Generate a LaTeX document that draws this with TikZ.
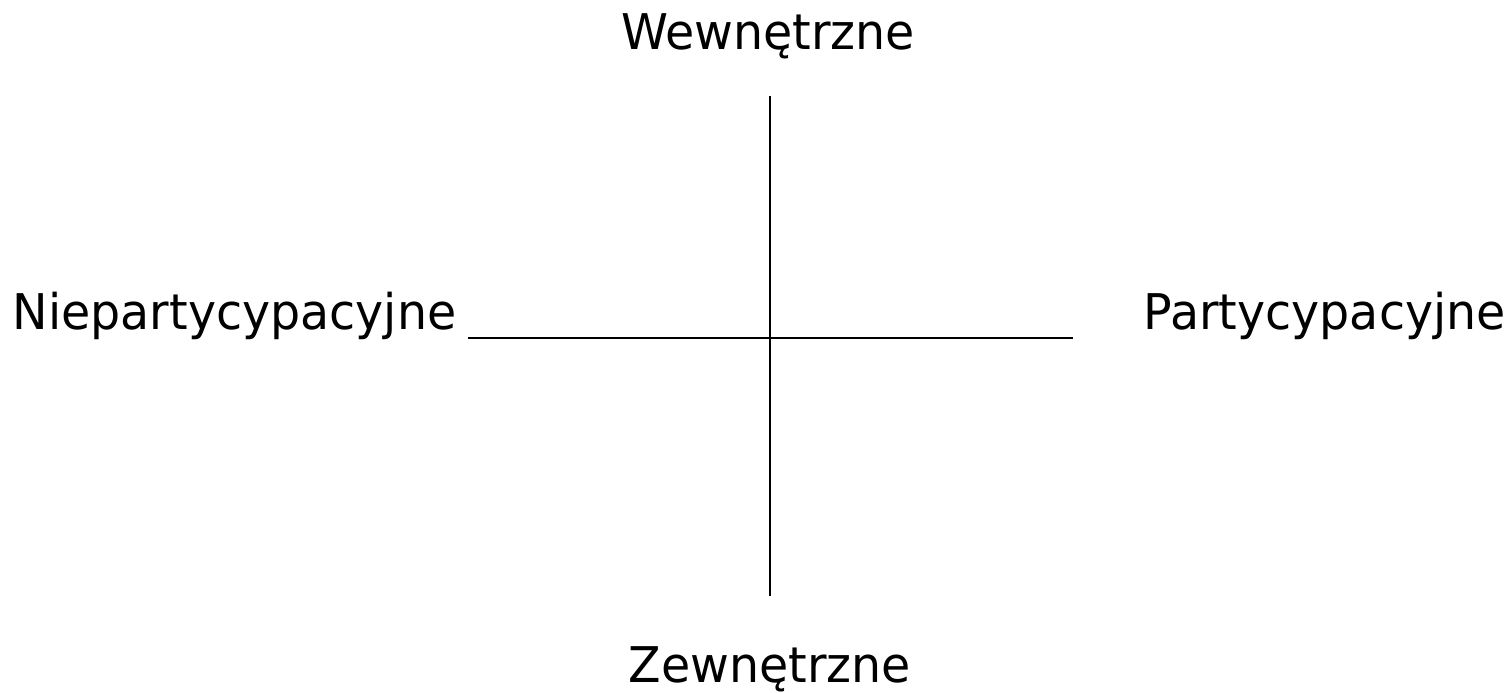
\documentclass[tikz,border=0pt]{standalone}
\usepackage{fontspec}
\setmainfont{DejaVu Sans}[FakeStretch=0.965]
\usepackage{tikz}

\begin{document}
\begin{tikzpicture}[lbl/.style={font=\fontsize{14}{16}\selectfont, inner sep=0pt}]
            \useasboundingbox (0,0) rectangle (15.12,6.93);
            
            \coordinate (top) at (7.70,5.97);
            \coordinate (bottom) at (7.70,0.97);
            \coordinate (left) at (4.68,3.55);
            \coordinate (right) at (10.73,3.55);
            
            \draw (top) -- (bottom);
            \draw (left) -- (right);
            
            \node[lbl, anchor=base] (wew) at (7.68,6.43) {Wewnętrzne};
            \node[lbl, anchor=base] (zew) at (7.70,0.10) {Zewnętrzne};
            \node[lbl, anchor=base west] (niepart) at (0.12,3.63) {Niepartycypacyjne};
            \node[lbl, anchor=base west] (part) at (11.43,3.63) {Partycypacyjne};
         \end{tikzpicture}
\end{document}
